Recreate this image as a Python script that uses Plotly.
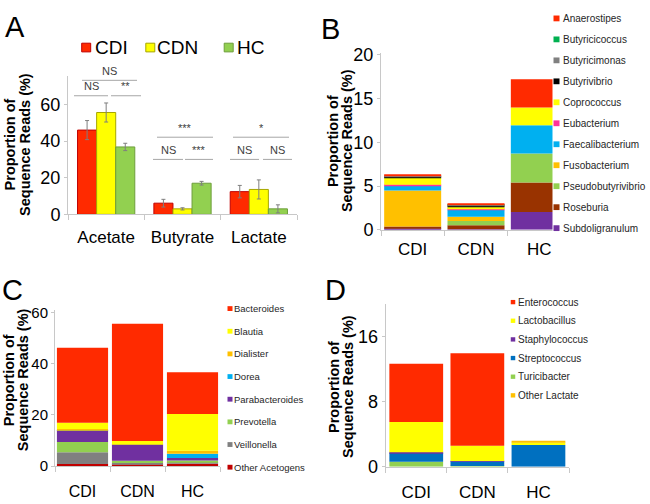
import numpy as np
import plotly.graph_objects as go

# ---------------- data ----------------
# Panel A: SCFA producer proportions (mean, error)
scfa = ["Acetate", "Butyrate", "Lactate"]
groups = ["CDI", "CDN", "HC"]
a_cdi = [46.0, 6.1, 12.4]
a_cdn = [55.6, 3.0, 13.6]
a_hc = [36.8, 17.0, 3.0]
a_cdi_err = [5.2, 2.1, 3.4]
a_cdn_err = [5.2, 0.6, 5.2]
a_hc_err = [2.0, 1.0, 2.2]
sig_labels = ["NS", "NS", "**", "***", "NS", "***", "*", "NS", "NS"]

# Panel B: butyrate producers
b_genera = ["Anaerostipes", "Butyricicoccus", "Butyricimonas", "Butyrivibrio", "Coprococcus",
            "Eubacterium", "Faecalibacterium", "Fusobacterium", "Pseudobutyrivibrio",
            "Roseburia", "Subdoligranulum"]
b_colors = ["#FF2A00", "#00B050", "#808080", "#000000", "#FFFF00", "#FF3399",
            "#00B0F0", "#FFC000", "#92D050", "#993300", "#7030A0"]
b_values = {
    "Anaerostipes":       [0.18, 0.15, 3.23],
    "Butyricicoccus":     [0.00, 0.05, 0.00],
    "Butyricimonas":      [0.10, 0.15, 0.00],
    "Butyrivibrio":       [0.12, 0.05, 0.00],
    "Coprococcus":        [0.81, 0.30, 2.02],
    "Eubacterium":        [0.11, 0.05, 0.00],
    "Faecalibacterium":   [0.55, 0.80, 3.23],
    "Fusobacterium":      [4.11, 0.50, 0.00],
    "Pseudobutyrivibrio": [0.00, 0.48, 3.30],
    "Roseburia":          [0.26, 0.46, 3.38],
    "Subdoligranulum":    [0.11, 0.05, 2.02],
}

# Panel C: acetate producers
c_genera = ["Bacteroides", "Blautia", "Dialister", "Dorea", "Parabacteroides",
            "Prevotella", "Veillonella", "Other Acetogens"]
c_colors = ["#FF2A00", "#FFFF00", "#FFC000", "#00B0F0", "#7030A0",
            "#92D050", "#808080", "#C00000"]
c_values = {
    "Bacteroides":     [29.35, 45.9, 16.3],
    "Blautia":         [2.5, 1.3, 14.4],
    "Dialister":       [0.3, 0.1, 1.2],
    "Dorea":           [0.1, 0.1, 1.7],
    "Parabacteroides": [4.65, 6.2, 0.9],
    "Prevotella":      [4.0, 0.9, 0.9],
    "Veillonella":     [4.6, 0.5, 0.4],
    "Other Acetogens": [0.8, 0.7, 0.9],
}

# Panel D: lactate producers
d_genera = ["Enterococcus", "Lactobacillus", "Staphylococcus", "Streptococcus",
            "Turicibacter", "Other Lactate"]
d_colors = ["#FF2A00", "#FFFF00", "#7030A0", "#0070C0", "#92D050", "#FFC000"]
d_values = {
    "Enterococcus":   [7.14, 11.37, 0.0],
    "Lactobacillus":  [3.73, 1.88, 0.31],
    "Staphylococcus": [0.05, 0.02, 0.0],
    "Streptococcus":  [1.09, 0.57, 2.65],
    "Turicibacter":   [0.62, 0.10, 0.0],
    "Other Lactate":  [0.0, 0.0, 0.2],
}
d_stack = ["Turicibacter", "Streptococcus", "Staphylococcus", "Lactobacillus",
           "Enterococcus", "Other Lactate"]

# ---------------- layout helpers ----------------
W, H = 650, 504
FONT = "Liberation Sans, Arial, sans-serif"
AX = "#c8c8c8"


def px(x):
    return x / W


def py(y):
    return 1 - y / H


fig = go.Figure()
shapes = []
annotations = []

# ---------------- Panel A ----------------
a_colors = ["#FF2A00", "#FFFF00", "#92D050"]
a_lines = ["#C00000", "#A6A600", "#6E9E3C"]
for i, (g, vals, errs) in enumerate(zip(groups, [a_cdi, a_cdn, a_hc],
                                        [a_cdi_err, a_cdn_err, a_hc_err])):
    fig.add_trace(go.Bar(
        x=scfa, y=vals, name=g, xaxis="x", yaxis="y",
        width=0.25, offset=-0.375 + 0.25 * i,
        marker=dict(color=a_colors[i], line=dict(color=a_lines[i], width=1)),
        error_y=dict(type="data", array=errs, color="#7f7f7f", thickness=1, width=2),
        showlegend=False,
    ))


def stacked(values, order, colors_map, xa, ya, width):
    base = np.zeros(len(groups))
    for name in order:
        v = np.array(values[name], dtype=float)
        fig.add_trace(go.Bar(
            x=groups, y=v, base=base.copy(), name=name, xaxis=xa, yaxis=ya,
            width=width, marker=dict(color=colors_map[name], line=dict(width=0)),
            showlegend=False,
        ))
        base = base + v


stacked(b_values, list(reversed(b_genera)), dict(zip(b_genera, b_colors)), "x2", "y2", 0.9)
stacked(c_values, list(reversed(c_genera)), dict(zip(c_genera, c_colors)), "x3", "y3", 0.93)
stacked(d_values, d_stack, dict(zip(d_genera, d_colors)), "x4", "y4", 0.88)


def xaxis(dom, anchor, fs, standoff):
    return dict(domain=[px(dom[0]), px(dom[1])], anchor=anchor, type="category",
                tickson="boundaries", ticks="outside", ticklen=5, tickcolor=AX,
                showline=True, linecolor=AX, linewidth=1, showgrid=False, zeroline=False,
                tickfont=dict(family=FONT, size=fs, color="#000"),
                ticklabelstandoff=standoff, fixedrange=True)


def yaxis(dom, anchor, rng, dtick, fs):
    return dict(domain=[py(dom[0]), py(dom[1])], anchor=anchor, range=rng, dtick=dtick,
                ticks="outside", ticklen=3, tickcolor=AX, showline=True, linecolor=AX,
                linewidth=1, showgrid=False, zeroline=False,
                tickfont=dict(family=FONT, size=fs, color="#000"), fixedrange=True)


# significance bars for panel A (pixel positions)
sig_lines = [(82, 137, 75), (74, 108, 91), (111, 141, 91),
             (157, 213, 134), (153, 183, 157), (185, 213, 157),
             (233, 289, 134), (230, 259, 157), (263, 292, 157)]
for lab, (x0, x1, yy) in zip(sig_labels, sig_lines):
    shapes.append(dict(type="line", xref="paper", yref="paper", x0=px(x0), x1=px(x1),
                       y0=py(yy), y1=py(yy), line=dict(color="#a6a6a6", width=1)))
    annotations.append(dict(text=lab, x=px((x0 + x1) / 2), y=py(yy - 1.5), xref="paper",
                            yref="paper", xanchor="center", yanchor="bottom", showarrow=False,
                            font=dict(family=FONT, size=11, color="#404040")))

# white box behind legend B (legend overlays the plot area)
shapes.append(dict(type="rect", xref="paper", yref="paper", x0=px(552.5), x1=px(650),
                   y0=py(237), y1=py(0), fillcolor="white", line=dict(width=0), layer="above"))


def legend(names, colors, x_sq, x_txt, y0, dy, sq, fs, color="#262626"):
    for i, (n, c) in enumerate(zip(names, colors)):
        yc = y0 + i * dy
        shapes.append(dict(type="rect", xref="paper", yref="paper",
                           x0=px(x_sq - sq / 2), x1=px(x_sq + sq / 2),
                           y0=py(yc + sq / 2), y1=py(yc - sq / 2), fillcolor=c,
                           line=dict(width=0), layer="above"))
        annotations.append(dict(text=n, x=px(x_txt), y=py(yc), xref="paper", yref="paper",
                                xanchor="left", yanchor="middle", showarrow=False,
                                font=dict(family=FONT, size=fs, color=color)))


# Legend A (horizontal)
for i, (g, c, lc, xs, xt) in enumerate(zip(groups, a_colors, a_lines,
                                           [86.2, 150.3, 228.7], [93, 155, 235])):
    shapes.append(dict(type="rect", xref="paper", yref="paper", x0=px(xs - 4.5),
                       x1=px(xs + 4.5), y0=py(45.5), y1=py(36.5), fillcolor=c,
                       line=dict(width=1, color=lc), layer="above"))
    annotations.append(dict(text=g, x=px(xt), y=py(41), xref="paper", yref="paper",
                            xanchor="left", yanchor="middle", showarrow=False,
                            font=dict(family=FONT, size=19, color="#000")))

legend(b_genera, b_colors, 556.5, 560.5, 10.8, 21.75, 6, 10)
legend(c_genera, c_colors, 230, 231.5, 311.7, 23.5, 5, 9.5)
legend(d_genera, d_colors, 513, 515.5, 305, 19.34, 4.5, 10)

# axis titles (two rotated lines each)
for (x1, x2, yc) in [(9.5, 25, 142), (333, 347, 138), (9, 23, 386), (334, 348, 393)]:
    for txt, xx in (("Proportion of", x1), ("Sequence Reads (%)", x2)):
        annotations.append(dict(text="<b>%s</b>" % txt, x=px(xx), y=py(yc), xref="paper",
                                yref="paper", xanchor="center", yanchor="middle",
                                textangle=-90, showarrow=False,
                                font=dict(family=FONT, size=14.5, color="#000")))

# panel letters
for letter, xl, yc in [("A", 3, 20), ("B", 319, 22), ("C", 0, 292), ("D", 323, 292)]:
    annotations.append(dict(text=letter, x=px(xl), y=py(yc), xref="paper", yref="paper",
                            xanchor="left", yanchor="middle", showarrow=False,
                            font=dict(family=FONT, size=29, color="#000")))

fig.update_layout(
    width=W, height=H, autosize=False,
    margin=dict(l=0, r=0, t=0, b=0),
    paper_bgcolor="white", plot_bgcolor="white",
    barmode="overlay", showlegend=False,
    xaxis=xaxis((68, 297), "y", 17, 7),
    yaxis=yaxis((214, 70), "x", [0, 75.8], 20, 18),
    xaxis2=xaxis((381, 571), "y2", 17, 4),
    yaxis2=yaxis((230, 47), "x2", [0, 20.15], 5, 18),
    xaxis3=xaxis((55, 220), "y3", 16, 11),
    yaxis3=yaxis((475, 313), "x3", [0, 61.1], 20, 15),
    xaxis4=xaxis((385.7, 569), "y4", 17, 10),
    yaxis4=yaxis((475.7, 306.7), "x4", [0, 20], 8, 18),
    shapes=shapes, annotations=annotations,
)

fig.write_html(
    "out.html",
    config={"displayModeBar": False},
    post_script="document.body.style.margin='0';document.body.style.overflow='hidden';"
                "document.documentElement.style.overflow='hidden';",
)
